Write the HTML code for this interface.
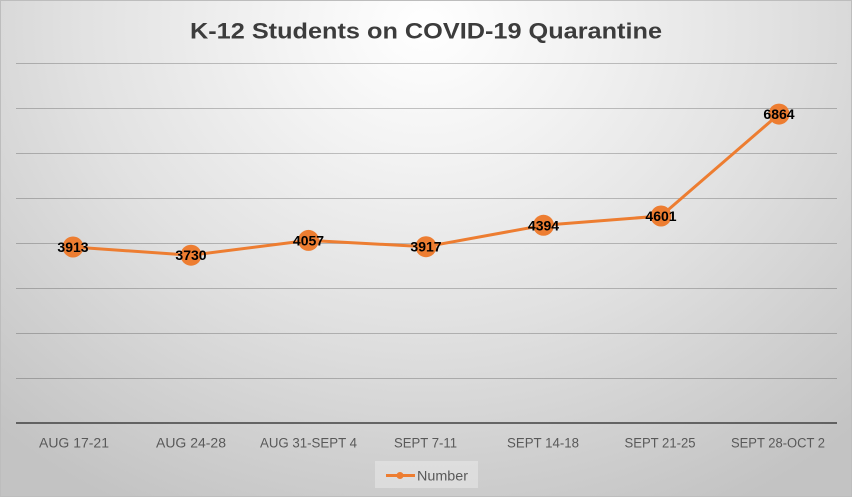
<!DOCTYPE html>
<html><head><meta charset="utf-8"><style>
html,body{margin:0;padding:0;}
body{width:852px;height:497px;overflow:hidden;}
.chart{position:relative;width:850px;height:495px;border:1px solid #bdbdbd;
background:radial-gradient(ellipse 75% 110% at 50% 5%, #ffffff 0%, #f2f2f2 25%, #e1e1e1 55%, #d0d0d0 80%, #c3c3c3 100%);}
svg{position:absolute;left:-1px;top:-1px;}
</style></head><body>
<div class="chart">
<svg width="852" height="497" viewBox="0 0 852 497" xmlns="http://www.w3.org/2000/svg">
<text x="426" y="38.5" text-anchor="middle" font-family="Liberation Sans, sans-serif" font-weight="bold" font-size="22.5" fill="#3c3c3c" textLength="472" lengthAdjust="spacingAndGlyphs">K-12 Students on COVID-19 Quarantine</text>
<g stroke="rgba(0,0,0,0.22)" stroke-width="1">
<line x1="16" y1="63.5" x2="837" y2="63.5"/>
<line x1="16" y1="108.5" x2="837" y2="108.5"/>
<line x1="16" y1="153.5" x2="837" y2="153.5"/>
<line x1="16" y1="198.5" x2="837" y2="198.5"/>
<line x1="16" y1="243.5" x2="837" y2="243.5"/>
<line x1="16" y1="288.5" x2="837" y2="288.5"/>
<line x1="16" y1="333.5" x2="837" y2="333.5"/>
<line x1="16" y1="378.5" x2="837" y2="378.5"/>
</g>
<line x1="16" y1="423" x2="837" y2="423" stroke="#404040" stroke-width="1.6"/>
<polyline fill="none" stroke="#ed7d31" stroke-width="3" stroke-linejoin="round"
points="73,247 191,255.2 308.5,240.4 426,246.7 543.5,225.3 661,216 779,114.1"/>
<g fill="#ed7d31">
<circle cx="73" cy="247" r="10.5"/>
<circle cx="191" cy="255.2" r="10.5"/>
<circle cx="308.5" cy="240.4" r="10.5"/>
<circle cx="426" cy="246.7" r="10.5"/>
<circle cx="543.5" cy="225.3" r="10.5"/>
<circle cx="661" cy="216" r="10.5"/>
<circle cx="779" cy="114.1" r="10.5"/>
</g>
<g font-family="Liberation Sans, sans-serif" font-weight="bold" font-size="14" fill="#000" text-anchor="middle">
<text x="73" y="252">3913</text>
<text x="191" y="260">3730</text>
<text x="308.5" y="245.5">4057</text>
<text x="426" y="251.5">3917</text>
<text x="543.5" y="230.3">4394</text>
<text x="661" y="221">4601</text>
<text x="779" y="119">6864</text>
</g>
<g font-family="Liberation Sans, sans-serif" font-size="13.5" fill="#595959" text-anchor="middle">
<text x="74" y="447.5" textLength="70" lengthAdjust="spacingAndGlyphs">AUG 17-21</text>
<text x="191" y="447.5" textLength="70" lengthAdjust="spacingAndGlyphs">AUG 24-28</text>
<text x="308.5" y="447.5" textLength="97" lengthAdjust="spacingAndGlyphs">AUG 31-SEPT 4</text>
<text x="425.5" y="447.5" textLength="63" lengthAdjust="spacingAndGlyphs">SEPT 7-11</text>
<text x="543" y="447.5" textLength="72" lengthAdjust="spacingAndGlyphs">SEPT 14-18</text>
<text x="660" y="447.5" textLength="71" lengthAdjust="spacingAndGlyphs">SEPT 21-25</text>
<text x="778" y="447.5" textLength="94" lengthAdjust="spacingAndGlyphs">SEPT 28-OCT 2</text>
</g>
<rect x="375" y="461" width="103" height="27" fill="rgba(255,255,255,0.3)"/>
<line x1="386" y1="475.5" x2="415" y2="475.5" stroke="#ed7d31" stroke-width="3"/>
<circle cx="400" cy="475.5" r="3.5" fill="#ed7d31"/>
<text x="417" y="480.5" font-family="Liberation Sans, sans-serif" font-size="13.5" fill="#595959" textLength="51" lengthAdjust="spacingAndGlyphs">Number</text>
</svg>
</div>
</body></html>
